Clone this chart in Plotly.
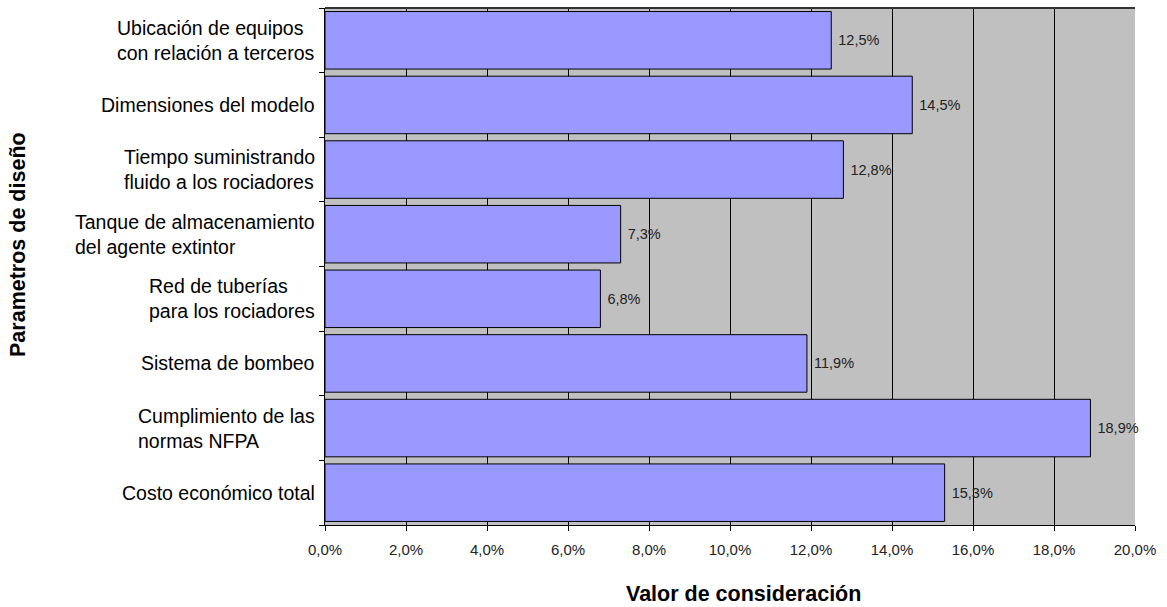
import plotly.graph_objects as go

categories = [
    "Ubicación de equipos<br>con relación a terceros",
    "Dimensiones del modelo",
    "Tiempo suministrando<br>fluido a los rociadores",
    "Tanque de almacenamiento<br>del agente extintor",
    "Red de tuberías<br>para los rociadores",
    "Sistema de bombeo",
    "Cumplimiento de las<br>normas NFPA",
    "Costo económico total",
]
values = [0.125, 0.145, 0.128, 0.073, 0.068, 0.119, 0.189, 0.153]
x_ticks = [0, 0.02, 0.04, 0.06, 0.08, 0.10, 0.12, 0.14, 0.16, 0.18, 0.20]
grid_vals = [0.02, 0.04, 0.06, 0.08, 0.10, 0.12, 0.14, 0.16, 0.18]

x_title = "Valor de consideración"
y_title = "Parametros de diseño"

fig = go.Figure()
fig.add_trace(go.Bar(
    x=values,
    y=list(range(len(categories))),
    orientation="h",
    marker=dict(color="#9999FF", line=dict(color="#000000", width=1)),
    texttemplate="\u00a0%{x:.1%}",
    textposition="outside",
    textfont=dict(family="Liberation Sans Narrow, Arial Narrow, Liberation Sans, Arial", size=14.5, color="#222222"),
    cliponaxis=False,
    hoverinfo="skip",
))

annotations = []
for i, c in enumerate(categories):
    annotations.append(dict(
        text=c, x=0, xref="paper", xshift=-8, y=i, yref="y",
        xanchor="right", yanchor="middle", align="left", showarrow=False,
        font=dict(family="Liberation Sans, Arial", size=19.5, color="#000000"),
    ))
annotations.append(dict(
    text="<b>" + x_title + "</b>", x=0.517, xref="paper", y=0, yref="paper", yshift=-69,
    xanchor="center", yanchor="middle", showarrow=False,
    font=dict(family="Liberation Sans, Arial", size=21.5, color="#000000"),
))
annotations.append(dict(
    text="<b>" + y_title + "</b>", x=0, xref="paper", xshift=-307, y=0.5416, yref="paper",
    xanchor="center", yanchor="middle", textangle=-90, showarrow=False,
    font=dict(family="Liberation Sans, Arial", size=21.5, color="#000000"),
))

fig.update_layout(
    width=1167, height=607,
    margin=dict(l=325, r=32, t=8, b=82),
    paper_bgcolor="#FFFFFF",
    plot_bgcolor="#C0C0C0",
    separators=", ",
    bargap=0.11,
    showlegend=False,
    annotations=annotations,
    font=dict(family="Liberation Sans, Arial", color="#000000"),
)
fig.update_xaxes(
    range=[0, 0.2], tickvals=x_ticks, tickformat=".1%",
    showgrid=False,
    minor=dict(tickvals=grid_vals, showgrid=True, gridcolor="#000000", gridwidth=1, ticks=""),
    showline=True, linecolor="#000000", linewidth=1,
    ticks="outside", ticklen=5, tickcolor="#000000",
    ticklabelstandoff=6,
    tickfont=dict(family="Liberation Sans, Arial", size=15, color="#222222"),
    zeroline=False, fixedrange=True,
)
fig.update_yaxes(
    range=[len(categories) - 0.5, -0.5],
    tickvals=list(range(len(categories))), showticklabels=False,
    showgrid=False, zeroline=False,
    showline=True, linecolor="#000000", linewidth=1,
    mirror=False, fixedrange=True,
    ticks="",
    minor=dict(tickvals=[i - 0.5 for i in range(len(categories) + 1)],
               ticks="outside", ticklen=5, tickcolor="#000000", showgrid=False),
)
fig.add_shape(type="line", xref="paper", yref="paper", x0=0, x1=1, y0=1, y1=1,
              line=dict(color="#333333", width=2))

fig.write_html("out.html")
